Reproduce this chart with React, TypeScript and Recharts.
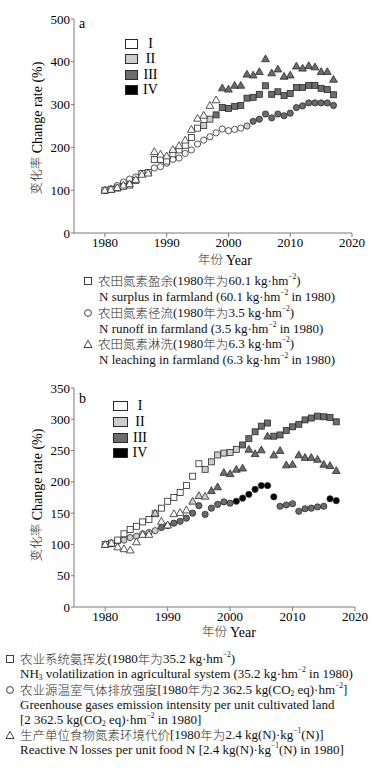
import React from 'react';
import { ScatterChart, Scatter, XAxis, YAxis } from 'recharts';

const years = [
  1980, 1981, 1982, 1983, 1984, 1985, 1986, 1987, 1988, 1989,
  1990, 1991, 1992, 1993, 1994, 1995, 1996, 1997, 1998, 1999,
  2000, 2001, 2002, 2003, 2004, 2005, 2006, 2007, 2008, 2009,
  2010, 2011, 2012, 2013, 2014, 2015, 2016, 2017,
];

// Panel a
const aSurplus = [100, 102, 105, 109, 112, 123, 139, 141, 172, 172, 168, 185, 194, 205, 223, 245, 251, 266, 276, 293, 291, 296, 298, 315, 317, 324, 344, 324, 330, 321, 326, 340, 340, 345, 345, 338, 335, 323];
const aRunoff = [100, 103, 111, 119, 126, 131, 139, 141, 152, 155, 163, 172, 175, 186, 194, 208, 217, 225, 234, 243, 239, 242, 245, 250, 261, 266, 278, 269, 278, 274, 280, 293, 297, 304, 304, 304, 304, 298];
const aLeaching = [100, 102, 106, 112, 115, 125, 137, 140, 190, 184, 180, 195, 204, 217, 242, 268, 275, 298, 311, 339, 336, 345, 345, 371, 369, 377, 407, 374, 383, 366, 369, 390, 385, 391, 388, 377, 377, 359];

// Panel b
const bNH3 = [100, 102, 107, 117, 124, 129, 136, 140, 149, 158, 169, 175, 183, 194, 209, 229, 220, 232, 243, 246, 247, 252, 259, 269, 280, 289, 294, 273, 275, 282, 288, 292, 299, 302, 305, 304, 303, 296];
const bGHG = [100, 101, 105, 107, 111, 113, 117, 119, 122, 127, 130, 134, 137, 142, 150, 162, 148, 158, 164, 168, 166, 169, 174, 180, 188, 194, 194, 176, 161, 163, 165, 153, 157, 158, 160, 161, 173, 170];
const bLoss = [100, 102, 96, 93, 91, 104, 116, 116, 150, 137, 131, 149, 151, 155, 169, 178, 177, 186, 192, 215, 213, 220, 222, 252, 245, 251, 273, 243, 250, 227, 228, 243, 239, 239, 236, 228, 226, 218];

const xTicks = [1980, 1990, 2000, 2010, 2020];
const aYTicks = [0, 100, 200, 300, 400, 500];
const bYTicks = [0, 50, 100, 150, 200, 250, 300, 350];
const periodLabels = ['I', 'II', 'III', 'IV'];

type Range = [string, number, number];
const aSurplusPeriods: Range[] = [['I', 1980, 1995], ['II', 1996, 1997], ['III', 1998, 2017]];
const aRunoffPeriods: Range[] = [['I', 1980, 2002], ['II', 2003, 2003], ['III', 2004, 2017]];
const aLeachingPeriods: Range[] = [['I', 1980, 1998], ['III', 1999, 2017]];
const bNH3Periods: Range[] = [['I', 1980, 1995], ['II', 1996, 2001], ['III', 2002, 2017]];
const bGHGPeriods: Range[] = [['I', 1980, 1981], ['II', 1982, 1988], ['III', 1989, 2000], ['IV', 2001, 2007], ['III', 2008, 2015], ['IV', 2016, 2017]];
const bLossPeriods: Range[] = [['I', 1980, 1987], ['II', 1988, 1988], ['I', 1989, 1993], ['II', 1994, 1996], ['III', 1997, 2017]];

const periodFill: Record<string, string> = { I: '#ffffff', II: '#cdcdcd', III: '#6c6c6c', IV: '#000000' };

function build(values: number[], ranges: Range[]) {
  return years.map((y, i) => {
    const r = ranges.find((rg) => y >= rg[1] && y <= rg[2]);
    return { year: y, v: values[i], p: r ? r[0] : 'I' };
  });
}

const SERIF = "'Liberation Serif', 'Times New Roman', 'Noto Sans CJK SC', serif";
const STROKE = '#2a2a2a';

const Square = (props: any) => {
  const { cx, cy, payload } = props;
  if (cx == null || cy == null) return null;
  return <rect x={cx - 3} y={cy - 3} width={6} height={6} fill={periodFill[payload.p]} stroke={STROKE} strokeWidth={0.8} />;
};
const Circ = (props: any) => {
  const { cx, cy, payload } = props;
  if (cx == null || cy == null) return null;
  return <circle cx={cx} cy={cy} r={3.1} fill={periodFill[payload.p]} stroke={STROKE} strokeWidth={0.8} />;
};
const Tri = (props: any) => {
  const { cx, cy, payload } = props;
  if (cx == null || cy == null) return null;
  const pts = `${cx},${cy - 3.9} ${cx + 3.9},${cy + 2.9} ${cx - 3.9},${cy + 2.9}`;
  return <polygon points={pts} fill={periodFill[payload.p]} stroke={STROKE} strokeWidth={0.8} />;
};

const tickStyle = { fill: '#000', fontSize: 13, fontFamily: SERIF };

function Panel(props: { top: number; height: number; right: number; yMax: number; yTicks: number[]; sq: any[]; ci: any[]; tr: any[] }) {
  return (
    <div style={{ position: 'absolute', left: 0, top: props.top, width: 389, height: props.height }}>
      <ScatterChart width={389} height={props.height} margin={{ top: 19, right: props.right, bottom: 0, left: 34 }} style={{ fontFamily: SERIF }}>
        <XAxis type="number" dataKey="year" domain={[1975, 2020]} ticks={xTicks} allowDataOverflow interval={0}
          tick={tickStyle} stroke="#7a7a7a" tickSize={4} tickMargin={1} height={22} />
        <YAxis type="number" dataKey="v" domain={[0, props.yMax]} ticks={props.yTicks} allowDataOverflow interval={0}
          tick={tickStyle} stroke="#7a7a7a" tickSize={3} tickMargin={1} width={40} />
        <Scatter data={props.ci} shape={Circ} isAnimationActive={false} />
        <Scatter data={props.sq} shape={Square} isAnimationActive={false} />
        <Scatter data={props.tr} shape={Tri} isAnimationActive={false} />
      </ScatterChart>
    </div>
  );
}

function InnerLegend(props: { left: number; top: number; step: number; boxW: number; boxH: number; numX: number }) {
  return (
    <>
      {periodLabels.map((lab, i) => (
        <React.Fragment key={lab}>
          <div style={{ position: 'absolute', left: props.left, top: props.top + i * props.step - props.boxH / 2, width: props.boxW, height: props.boxH, boxSizing: 'border-box', border: `1px solid ${STROKE}`, background: periodFill[lab] }} />
          <div style={{ position: 'absolute', left: props.numX - 20, width: 40, textAlign: 'center', top: props.top + i * props.step - 7, height: 14, lineHeight: '14px', fontSize: 14, fontFamily: SERIF }}>{lab}</div>
        </React.Fragment>
      ))}
    </>
  );
}

const Sup = ({ t }: { t: string }) => <span style={{ display: 'inline-block', fontSize: 7.5, height: 8, lineHeight: '8px', verticalAlign: 'top', position: 'relative', top: -1 }}>{t}</span>;
const Sub = ({ t }: { t: string }) => <span style={{ display: 'inline-block', fontSize: 7.5, height: 8, lineHeight: '8px', verticalAlign: 'bottom', position: 'relative', top: 1 }}>{t}</span>;
const Zh = ({ children }: { children: any }) => <span style={{ display: 'inline-block', height: 14, lineHeight: '14px', verticalAlign: 'top', fontFamily: "'Noto Sans CJK SC', sans-serif", fontWeight: 300, color: '#2a2a2a', fontSize: 12.5 }}>{children}</span>;

function Line(props: { cy: number; left: number; children: any }) {
  return (
    <div style={{ position: 'absolute', left: props.left, top: props.cy - 7, height: 14, lineHeight: '14px', fontSize: 13, fontFamily: SERIF, whiteSpace: 'nowrap', color: '#111' }}>{props.children}</div>
  );
}

function Sym(props: { kind: string; cx: number; cy: number }) {
  const { kind, cx, cy } = props;
  return (
    <svg style={{ position: 'absolute', left: cx - 5, top: cy - 5 }} width={10} height={10}>
      {kind === 'sq' && <rect x={1.5} y={1.5} width={7} height={7} fill="#fff" stroke={STROKE} strokeWidth={0.9} />}
      {kind === 'ci' && <circle cx={5} cy={5} r={3.4} fill="#fff" stroke={STROKE} strokeWidth={0.9} />}
      {kind === 'tr' && <polygon points="5,1.3 9,8.5 1,8.5" fill="#fff" stroke={STROKE} strokeWidth={0.9} />}
    </svg>
  );
}

function YLabel(props: { cx: number; cy: number }) {
  return (
    <div style={{ position: 'absolute', left: props.cx - 80, top: props.cy - 9, width: 160, height: 18, lineHeight: '18px', textAlign: 'center', transform: 'rotate(-90deg)', fontSize: 14, fontFamily: SERIF, whiteSpace: 'nowrap' }}>
      <Zh>变化率</Zh> Change rate (%)
    </div>
  );
}

function XLabel(props: { cx: number; cy: number }) {
  return (
    <div style={{ position: 'absolute', left: props.cx - 60, top: props.cy - 9, width: 120, lineHeight: '18px', textAlign: 'center', fontSize: 14, fontFamily: SERIF, whiteSpace: 'nowrap' }}>
      <Zh>年份</Zh> Year
    </div>
  );
}

export default function App() {
  const aSq = build(aSurplus, aSurplusPeriods);
  const aCi = build(aRunoff, aRunoffPeriods);
  const aTr = build(aLeaching, aLeachingPeriods);
  const bSq = build(bNH3, bNH3Periods);
  const bCi = build(bGHG, bGHGPeriods);
  const bTr = build(bLoss, bLossPeriods);
  const unit = <>kg·hm<Sup t="−2" /></>;
  return (
    <div style={{ position: 'absolute', left: 0, top: 0, width: 389, height: 773, background: '#fff', fontFamily: SERIF, color: '#000' }}>
      <Panel top={0} height={255} right={37} yMax={500} yTicks={aYTicks} sq={aSq} ci={aCi} tr={aTr} />
      <div style={{ position: 'absolute', left: 79, top: 16, fontSize: 14, lineHeight: '16px' }}>a</div>
      <InnerLegend left={125} top={44} step={15.3} boxW={13} boxH={10} numX={150.5} />
      <YLabel cx={38} cy={128} />
      <XLabel cx={225} cy={261} />
      <Sym kind="sq" cx={88} cy={281} />
      <Line cy={281} left={98}><Zh>农田氮素盈余</Zh>(1980<Zh>年为</Zh>60.1 {unit})</Line>
      <Line cy={297} left={99}>N surplus in farmland (60.1 {unit} in 1980)</Line>
      <Sym kind="ci" cx={88} cy={313} />
      <Line cy={313} left={98}><Zh>农田氮素径流</Zh>(1980<Zh>年为</Zh>3.5 {unit})</Line>
      <Line cy={328.5} left={99}>N runoff in farmland (3.5 {unit} in 1980)</Line>
      <Sym kind="tr" cx={88} cy={344} />
      <Line cy={344} left={98}><Zh>农田氮素淋洗</Zh>(1980<Zh>年为</Zh>6.3 {unit})</Line>
      <Line cy={359.5} left={99}>N leaching in farmland (6.3 {unit} in 1980)</Line>

      <Panel top={369} height={260} right={34} yMax={350} yTicks={bYTicks} sq={bSq} ci={bCi} tr={bTr} />
      <div style={{ position: 'absolute', left: 79, top: 391, fontSize: 14, lineHeight: '16px' }}>b</div>
      <InnerLegend left={113} top={405.7} step={15.9} boxW={15} boxH={10} numX={140} />
      <YLabel cx={38} cy={495} />
      <XLabel cx={229} cy={633} />
      <Sym kind="sq" cx={10} cy={659} />
      <Line cy={659} left={20}><Zh>农业系统氨挥发</Zh>(1980<Zh>年为</Zh>35.2 {unit})</Line>
      <Line cy={674} left={20}>NH<Sub t="3" /> volatilization in agricultural system (35.2 {unit} in 1980)</Line>
      <Sym kind="ci" cx={10} cy={690} />
      <Line cy={690} left={20}><Zh>农业源温室气体排放强度</Zh>[1980<Zh>年为</Zh>2 362.5 kg(CO<Sub t="2" /> eq)·hm<Sup t="−2" />]</Line>
      <Line cy={705} left={20}>Greenhouse gases emission intensity per unit cultivated land</Line>
      <Line cy={720} left={20}>[2 362.5 kg(CO<Sub t="2" /> eq)·hm<Sup t="−2" /> in 1980]</Line>
      <Sym kind="tr" cx={10} cy={735} />
      <Line cy={735} left={20}><Zh>生产单位食物氮素环境代价</Zh>[1980<Zh>年为</Zh>2.4 kg(N)·kg<Sup t="−1" />(N)]</Line>
      <Line cy={750} left={20}>Reactive N losses per unit food N [2.4 kg(N)·kg<Sup t="−1" />(N) in 1980]</Line>
    </div>
  );
}
